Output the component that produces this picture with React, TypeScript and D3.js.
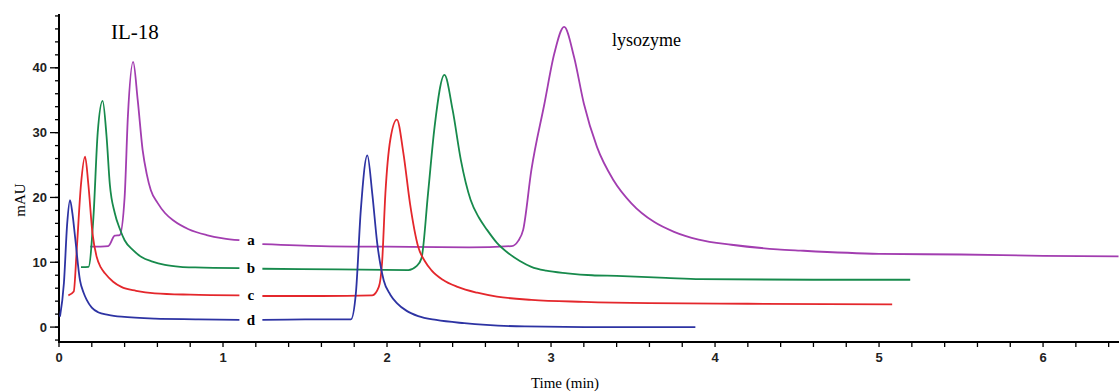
import * as d3 from 'd3'
import { useEffect, useRef } from 'react'

// time (min), absorbance (mAU); each trace is broken where its label sits
const traceA1 = [[0.19, 12.4], [0.3, 12.5], [0.34, 14.1], [0.37, 14.2], [0.4, 20], [0.42, 32.5], [0.452, 40.9], [0.48, 35], [0.51, 27.3], [0.535, 23.6], [0.56, 21.1], [0.6, 19.2], [0.646, 17.6], [0.7, 16.4], [0.79, 15.1], [0.9, 14.2], [1.0, 13.7], [1.1, 13.4]]
const traceA2 = [[1.24, 12.8], [1.6, 12.5], [2.0, 12.4], [2.5, 12.3], [2.76, 12.5], [2.8, 13.3], [2.83, 15], [2.88, 24.2], [2.96, 34.5], [3.02, 42.2], [3.08, 46.3], [3.14, 41.7], [3.2, 34.5], [3.28, 27.8], [3.38, 22.7], [3.49, 19.1], [3.63, 16.2], [3.75, 14.7], [3.9, 13.5], [4.1, 12.7], [4.38, 12], [4.52, 11.8], [5.0, 11.3], [5.5, 11.2], [6.0, 11.0], [6.46, 10.9]]

const traceB1 = [[0.134, 9.25], [0.18, 9.3], [0.21, 17], [0.236, 30], [0.266, 34.9], [0.29, 29.4], [0.31, 22], [0.34, 17.6], [0.37, 15.2], [0.4, 13.4], [0.45, 11.9], [0.503, 10.8], [0.57, 10.1], [0.646, 9.6], [0.74, 9.3], [0.83, 9.2], [1.1, 9.1]]
const traceB2 = [[1.24, 9.0], [1.7, 8.9], [2.13, 8.8], [2.18, 9.4], [2.21, 10.6], [2.25, 20.6], [2.29, 30.9], [2.35, 38.9], [2.4, 33.5], [2.45, 25.8], [2.51, 19.6], [2.56, 16.9], [2.61, 15], [2.67, 13], [2.74, 11.4], [2.81, 10.2], [2.88, 9.3], [2.97, 8.7], [3.1, 8.3], [3.25, 8.0], [3.4, 7.9], [3.7, 7.6], [3.91, 7.4], [4.6, 7.3], [5.19, 7.3]]

const traceC1 = [[0.057, 4.9], [0.09, 5.5], [0.108, 11.9], [0.134, 22], [0.159, 26.3], [0.179, 22], [0.204, 14.5], [0.23, 10.8], [0.255, 9.2], [0.28, 8.3], [0.33, 7.0], [0.38, 6.2], [0.47, 5.6], [0.585, 5.2], [0.8, 5.0], [1.1, 4.9]]
const traceC2 = [[1.24, 4.8], [1.6, 4.8], [1.91, 4.9], [1.95, 6.2], [1.97, 10], [1.99, 20.6], [2.02, 28.9], [2.06, 32], [2.1, 26.8], [2.14, 19.1], [2.19, 12.4], [2.23, 10.2], [2.27, 8.8], [2.34, 7.3], [2.43, 6.2], [2.55, 5.3], [2.67, 4.7], [2.88, 4.2], [3.2, 3.9], [3.6, 3.7], [4.2, 3.6], [5.08, 3.5]]

const traceD1 = [[0.006, 1.6], [0.03, 6.8], [0.05, 16], [0.067, 19.6], [0.082, 17.5], [0.098, 13.9], [0.128, 7.2], [0.15, 5.3], [0.169, 4.2], [0.2, 3.0], [0.238, 2.3], [0.3, 1.9], [0.38, 1.6], [0.585, 1.3], [0.85, 1.2], [1.1, 1.1]]
const traceD2 = [[1.24, 1.1], [1.5, 1.2], [1.78, 1.2], [1.81, 5.2], [1.84, 18], [1.88, 26.5], [1.91, 20.6], [1.94, 13], [1.98, 7.2], [2.02, 5.0], [2.06, 3.7], [2.12, 2.5], [2.19, 1.7], [2.3, 1.1], [2.47, 0.6], [2.84, 0.1], [3.3, 0], [3.88, 0]]

const traces = [
  { key: 'a', parts: [traceA1, traceA2], color: '#a23db0' },
  { key: 'b', parts: [traceB1, traceB2], color: '#178a4c' },
  { key: 'c', parts: [traceC1, traceC2], color: '#e4272c' },
  { key: 'd', parts: [traceD1, traceD2], color: '#2d33a3' },
]
const labelLevels = [13.4, 9.1, 4.9, 1.1] // where a..d labels sit
const labelTime = 1.17

const xTicks = [0, 1, 2, 3, 4, 5, 6]
const yTicks = [0, 10, 20, 30, 40]

const serif = 'Liberation Serif, Times New Roman, serif'
const sans = 'Liberation Sans, Arial, sans-serif'

function drawChart(svgEl) {
  const svg = d3.select(svgEl)
  svg.selectAll('*').remove()

  const x = d3.scaleLinear().domain([0, 6.463]).range([59, 1119])
  const y = d3.scaleLinear().domain([-2.3, 48.3]).range([342, 14])

  const minorX = d3.range(0, 6.41, 0.2)
  const minorY = d3.range(-2, 48.1, 2)

  // y axis
  const gy = svg.append('g').attr('transform', 'translate(59,0)')
  gy.append('line').attr('y1', 14).attr('y2', 342).attr('stroke', '#000').attr('stroke-width', 2)
  gy.selectAll('line.minor').data(minorY).enter().append('line').attr('class', 'minor')
    .attr('x1', -4).attr('x2', 0).attr('y1', d => y(d)).attr('y2', d => y(d))
    .attr('stroke', '#000').attr('stroke-width', 1.3)
  gy.selectAll('line.major').data(yTicks).enter().append('line').attr('class', 'major')
    .attr('x1', -9).attr('x2', 0).attr('y1', d => y(d)).attr('y2', d => y(d))
    .attr('stroke', '#000').attr('stroke-width', 1.3)
  gy.selectAll('text').data(yTicks).enter().append('text')
    .attr('x', -12).attr('y', d => y(d)).attr('dy', '0.36em')
    .attr('text-anchor', 'end').attr('font-family', sans)
    .attr('font-weight', 'bold').attr('font-size', 13).attr('fill', '#222')
    .text(d => d)

  // x axis
  const gx = svg.append('g').attr('transform', 'translate(0,342)')
  gx.append('line').attr('x1', 58).attr('x2', 1119).attr('stroke', '#000').attr('stroke-width', 2)
  gx.selectAll('line.minor').data(minorX).enter().append('line').attr('class', 'minor')
    .attr('x1', d => x(d)).attr('x2', d => x(d)).attr('y1', 0).attr('y2', 5)
    .attr('stroke', '#000').attr('stroke-width', 1.3)
  gx.selectAll('text').data(xTicks).enter().append('text')
    .attr('x', d => x(d)).attr('y', 20)
    .attr('text-anchor', 'middle').attr('font-family', sans)
    .attr('font-weight', 'bold').attr('font-size', 13).attr('fill', '#222')
    .text(d => d)

  svg.append('text').attr('x', 565).attr('y', 388).attr('text-anchor', 'middle')
    .attr('font-family', serif).attr('font-size', 15)
    .text('Time (min)')
  svg.append('text').attr('transform', 'translate(25,200) rotate(-90)').attr('text-anchor', 'middle')
    .attr('font-family', serif).attr('font-size', 15)
    .text('mAU')

  const line = d3.line().x(d => x(d[0])).y(d => y(d[1])).curve(d3.curveMonotoneX)

  const g = svg.append('g')
  traces.forEach(tr => {
    tr.parts.forEach(p => {
      g.append('path').attr('d', line(p)).attr('fill', 'none')
        .attr('stroke', tr.color).attr('stroke-width', 1.8).attr('stroke-linejoin', 'round')
    })
  })

  g.selectAll('text.lab').data(traces).enter().append('text').attr('class', 'lab')
    .attr('x', x(labelTime)).attr('y', (d, i) => y(labelLevels[i])).attr('dy', '0.32em')
    .attr('text-anchor', 'middle').attr('font-family', serif)
    .attr('font-weight', 'bold').attr('font-size', 15)
    .text(d => d.key)

  svg.append('text').attr('x', 111).attr('y', 39)
    .attr('font-family', serif).attr('font-size', 21)
    .text('IL-18')
  svg.append('text').attr('x', 612).attr('y', 46)
    .attr('font-family', serif).attr('font-size', 18)
    .text('lysozyme')
}

export default function App() {
  const ref = useRef(null)
  useEffect(() => {
    drawChart(ref.current)
  })

  return (
    <svg ref={ref} width="1119" height="392"
      style={{ position: 'absolute', left: 0, top: 0, background: '#fff', display: 'block' }}>
    </svg>
  )
}
